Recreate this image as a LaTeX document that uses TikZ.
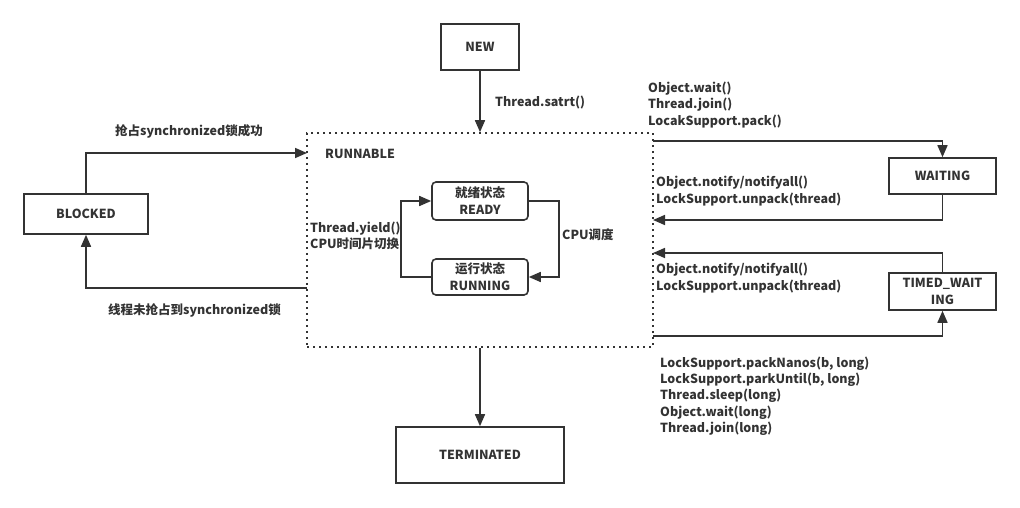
\documentclass[tikz,border=0pt]{standalone}
\usepackage{fontspec}
\setmainfont{Noto Sans CJK SC}
\usetikzlibrary{arrows.meta}
\definecolor{ink}{HTML}{333333}
\tikzstyle{state}=[draw=ink, line width=1.6pt, text=ink, font=\bfseries\fontsize{12.5}{17}\selectfont, inner sep=0pt, align=center]
\tikzstyle{flow}=[draw=ink, line width=1.6pt, -{Triangle[length=12pt, width=10pt]}]
\tikzstyle{lbl}=[text=ink, font=\bfseries\fontsize{12.5}{16.3}\selectfont, inner sep=0pt, align=left]
\tikzstyle{group}=[draw=ink, line width=1.6pt, dash pattern=on 2pt off 4pt]

\begin{document}
\begin{tikzpicture}[x=1pt, y=-1pt]
				\useasboundingbox (0,0) rectangle (1020,508);

				\node[state, minimum width=78pt, minimum height=46pt] (new) at (480,47) {NEW};
				\node[group, minimum width=346pt, minimum height=214pt] (runnable) at (480,240) {};
				\node[lbl, anchor=west] (runnable-lbl) at (325,154) {RUNNABLE};
				\node[state, rounded corners=4pt, minimum width=96pt, minimum height=38pt] (ready) at (480,201) {就绪状态\\READY};
				\node[state, rounded corners=4pt, minimum width=96pt, minimum height=36pt] (running) at (480,277) {运行状态\\RUNNING};
				\node[state, minimum width=124pt, minimum height=40pt] (blocked) at (86,214) {BLOCKED};
				\node[state, minimum width=107pt, minimum height=36pt] (waiting) at (942.5,176) {WAITING};
				\node[state, minimum width=107pt, minimum height=37pt] (timed) at (942.5,291.5) {TIMED\_WAIT\\ING};
				\node[state, minimum width=168pt, minimum height=56pt] (terminated) at (480,455) {TERMINATED};

				\coordinate (b-in) at (307,153);
				\coordinate (b-out) at (307,288);
				\coordinate (w-out) at (653,141);
				\coordinate (w-in) at (653,220);
				\coordinate (t-in) at (653,253);
				\coordinate (t-out) at (653,336);

				\draw[flow] (new) -- (runnable.north);
				\draw[flow] (blocked.north) |- (b-in);
				\draw[flow] (b-out) -| (blocked.south);
				\draw[flow] (ready.east) -- ++(30,0) |- (running.east);
				\draw[flow] (running.west) -- ++(-30,0) |- (ready.west);
				\draw[flow] (w-out) -| (waiting.north);
				\draw[flow] (waiting.south) |- (w-in);
				\draw[flow] (timed.north) |- (t-in);
				\draw[flow] (t-out) -| (timed.south);
				\draw[flow] (runnable.south) -- (terminated.north);

				\node[lbl, anchor=west] (start-lbl) at (495,103) {Thread.satrt()};
				\node[lbl] (lock-ok) at (189,131) {抢占synchronized锁成功};
				\node[lbl] (lock-fail) at (194.5,310) {线程未抢占到synchronized锁};
				\node[lbl, anchor=west] (sched-lbl) at (562,235) {CPU调度};
				\node[lbl, anchor=west] (yield-lbl) at (310,236) {Thread.yield()\\CPU时间片切换};
				\node[lbl, anchor=west] (wait-lbl) at (648,105) {Object.wait()\\Thread.join()\\LocakSupport.pack()};
				\node[lbl, anchor=west] (notify-lbl) at (656,191) {Object.notify/notifyall()\\LockSupport.unpack(thread)};
				\node[lbl, anchor=west] (tnotify-lbl) at (656,278) {Object.notify/notifyall()\\LockSupport.unpack(thread)};
				\node[lbl, anchor=west] (twait-lbl) at (660,396) {LockSupport.packNanos(b, long)\\LockSupport.parkUntil(b, long)\\Thread.sleep(long)\\Object.wait(long)\\Thread.join(long)};
			\end{tikzpicture}
\end{document}
